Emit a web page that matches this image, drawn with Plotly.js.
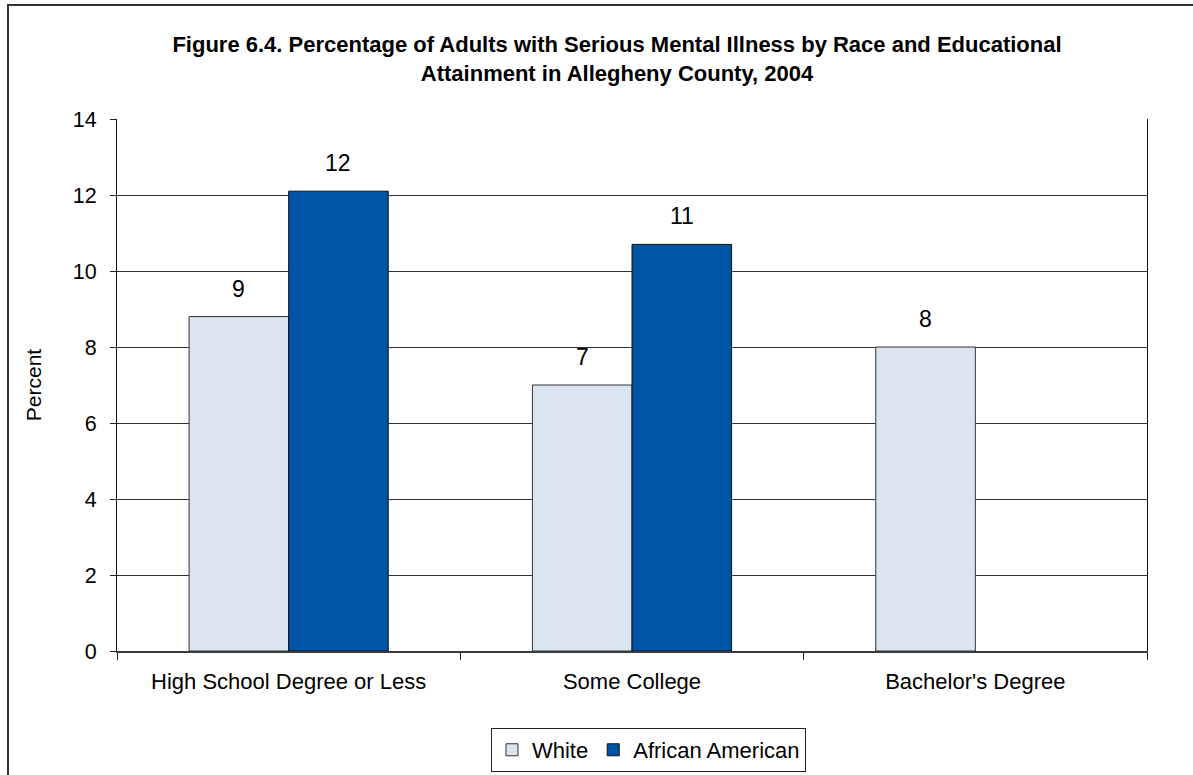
<!DOCTYPE html>
<html>
<head>
<meta charset="utf-8">
<script src="https://cdn.plot.ly/plotly-3.0.1.min.js"></script>
<style>
html,body{margin:0;padding:0;background:#fff;overflow:hidden;}
#wrap{position:relative;width:1193px;height:775px;overflow:hidden;}
#chart{width:1193px;height:775px;}
#frame{position:absolute;left:7px;top:4px;width:1400px;height:1000px;border:2px solid #333;pointer-events:none;}
</style>
</head>
<body>
<div id="wrap">
<div id="chart"></div>
<div id="frame"></div>
</div>
<script>
// ---- data ----
var categories = ["High School Degree or Less", "Some College", "Bachelor's Degree"];
var whiteValues = [8.8, 7.0, 8.0];
var africanAmericanValues = [12.1, 10.7, null];
var seriesNames = ["White", "African American"];
var yTickValues = [0, 2, 4, 6, 8, 10, 12, 14];

var FONT = "Arial, 'Liberation Sans', Helvetica, sans-serif";
var bargap = 0.42;
var barW = (1 - bargap) / 2;

var traces = [
  {
    type: "bar", name: seriesNames[0], x: categories, y: whiteValues,
    marker: {color: "#dae5f1", line: {color: "#333333", width: 1}},
    hoverinfo: "x+y"
  },
  {
    type: "bar", name: seriesNames[1], x: categories, y: africanAmericanValues,
    marker: {color: "#0054a6", line: {color: "#111111", width: 1}},
    hoverinfo: "x+y"
  }
];

// data labels (rounded values) placed through the axes
var annotations = [];
[whiteValues, africanAmericanValues].forEach(function (vals, s) {
  var off = (s === 0 ? -1 : 1) * barW / 2;
  vals.forEach(function (v, i) {
    if (v === null || v === undefined) return;
    annotations.push({
      xref: "x", yref: "y", x: i + off, y: v,
      text: String(Math.round(v)), showarrow: false,
      yanchor: "bottom", yshift: 13,
      font: {family: FONT, size: 23, color: "#000"}
    });
  });
});

var layout = {
  width: 1193, height: 775,
  margin: {l: 117, r: 46, t: 119, b: 124, autoexpand: false},
  paper_bgcolor: "#ffffff", plot_bgcolor: "#ffffff",
  font: {family: FONT, size: 22, color: "#000"},
  title: {
    text: "<b>Figure 6.4. Percentage of Adults with Serious Mental Illness by Race and Educational<br>Attainment in Allegheny County, 2004</b>",
    font: {family: FONT, size: 22, color: "#000"},
    x: 0.5172, xref: "container", xanchor: "center",
    y: 1, yref: "container", yanchor: "top", pad: {t: 52}
  },
  barmode: "group", bargap: bargap, bargroupgap: 0,
  showlegend: true,
  legend: {
    orientation: "h", x: 0.516, xanchor: "center", y: -0.1447, yanchor: "top",
    bordercolor: "#222", borderwidth: 1, bgcolor: "#fff",
    font: {family: FONT, size: 22, color: "#000"},
    traceorder: "normal"
  },
  xaxis: {
    type: "category", range: [-0.5, 2.5],
    showline: true, linecolor: "#3a3a3a", linewidth: 2,
    ticks: "outside", tickson: "boundaries", ticklen: 7, tickcolor: "#222", tickwidth: 1,
    showgrid: false, zeroline: false,
    tickfont: {family: FONT, size: 22, color: "#000"},
    ticklabelstandoff: 10
  },
  yaxis: {
    range: [0, 14], tickvals: yTickValues, ticktext: yTickValues.map(String),
    showline: true, linecolor: "#111", linewidth: 1, mirror: true,
    ticks: "outside", ticklen: 6, tickcolor: "#222", tickwidth: 1,
    showgrid: true, gridcolor: "#333", gridwidth: 1, zeroline: false,
    tickfont: {family: FONT, size: 21.5, color: "#000"},
    ticklabelstandoff: 9,
    title: {text: "Percent", font: {family: FONT, size: 21, color: "#000"}, standoff: 25}
  },
  annotations: annotations
};

Plotly.newPlot("chart", traces, layout, {displayModeBar: false, staticPlot: true});
</script>
</body>
</html>
